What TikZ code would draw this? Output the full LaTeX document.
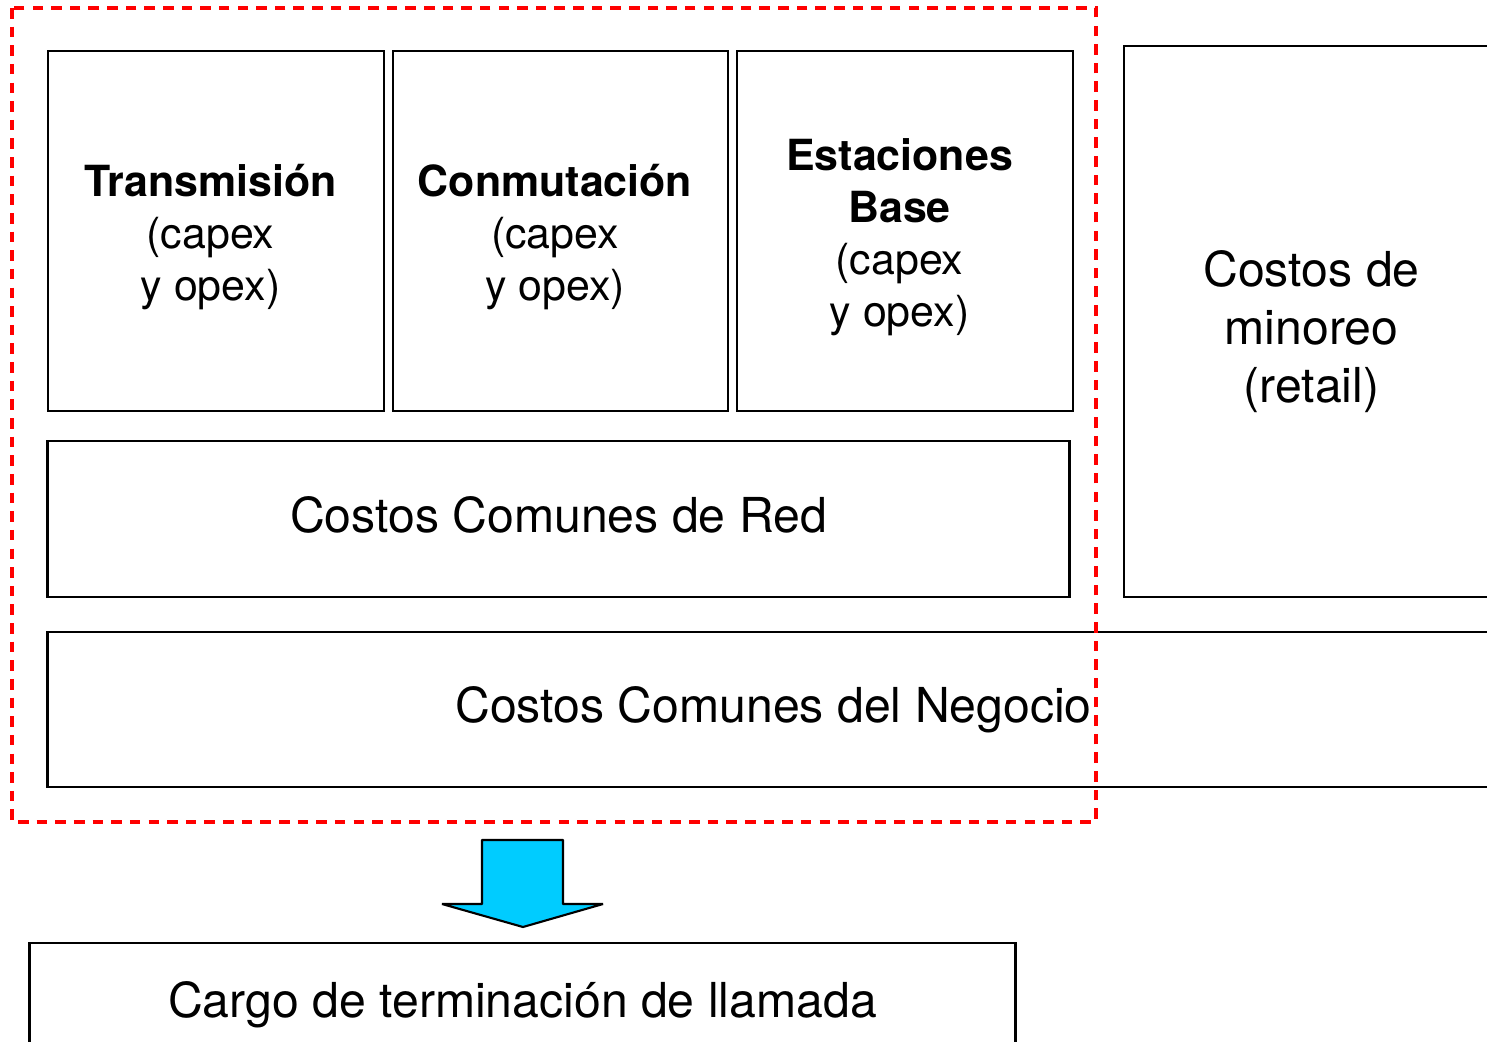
\documentclass[tikz,border=0pt]{standalone}
\usepackage{fontspec}
\setmainfont{TeX Gyre Heros}
\usepackage{xcolor}
\usepackage{tikz}
\usetikzlibrary{arrows.meta,calc}

\definecolor{flecha}{RGB}{0,204,255}

\tikzset{
    caja/.style={draw=black, line width=0.7pt, inner sep=0pt},
    chico/.style={font=\fontsize{12.2}{14.8}\selectfont, xshift=-0.055cm},
    grande/.style={font=\fontsize{13.7}{16.5}\selectfont},
    texto/.style n args={3}{label={[#1,align=center,inner sep=0pt,yshift=#2]center:{#3}}}
}

\begin{document}
\begin{tikzpicture}[x=0.01cm,y=-0.01cm]

\useasboundingbox (0,0) rectangle (1487,1042);

% bloques de red
\node[caja,minimum width=3.36cm,minimum height=3.6cm,
    texto={chico}{-0.06cm}{\textbf{Transmisión}\\(capex\\y opex)}] (trans) at (216,231) {};
\node[caja,minimum width=3.35cm,minimum height=3.6cm,
    texto={chico}{-0.06cm}{\textbf{Conmutación}\\(capex\\y opex)}] (conm) at (560.5,231) {};
\node[caja,minimum width=3.36cm,minimum height=3.6cm,
    texto={chico}{-0.06cm}{\textbf{Estaciones}\\\textbf{Base}\\(capex\\y opex)}] (estac) at (905,231) {};

\node[caja,minimum width=10.21cm,minimum height=1.56cm,
    texto={grande}{0.04cm}{Costos Comunes de Red}] (red) at (558.5,519) {};
\node[caja,minimum width=3.75cm,minimum height=5.51cm,
    texto={grande}{-0.1cm}{Costos de\\minoreo\\(retail)}] (minoreo) at (1311.5,321.5) {};
\node[caja,minimum width=14.51cm,minimum height=1.55cm,
    texto={grande}{0cm}{Costos Comunes del Negocio}] (negocio) at (773.5,709.5) {};

\node[caja,minimum width=9.85cm,minimum height=1.17cm,
    texto={grande}{-0.03cm}{Cargo de terminación de llamada}] (cargo) at (522.5,1001.5) {};

% marco punteado
\draw[red, line width=0.9pt, dash pattern=on 3pt off 2.3pt] (12,8) rectangle (1096,822);

% flecha
\draw[fill=flecha, line width=0.6pt, line join=bevel]
    (482,840) -- (563,840) -- (563,904) -- (603,904) -- (523,927) -- (442,904) -- (482,904) -- cycle;

\end{tikzpicture}
\end{document}
